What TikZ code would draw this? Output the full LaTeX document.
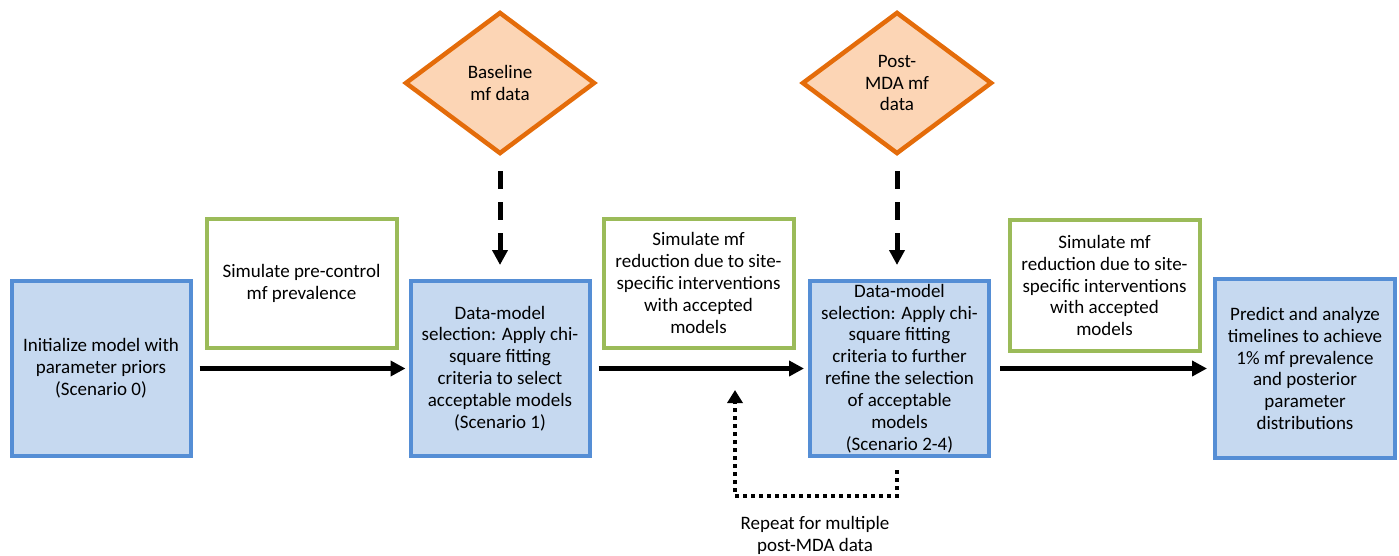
\documentclass[tikz,border=0pt]{standalone}
\usepackage{fontspec}
\setmainfont{Carlito}
\usetikzlibrary{shapes.geometric}
\usetikzlibrary{arrows.meta,positioning}

\definecolor{boxblue}{RGB}{198,217,240}
\definecolor{lineblue}{RGB}{85,142,213}
\definecolor{boxgreen}{RGB}{155,187,89}
\definecolor{diafill}{RGB}{252,213,181}
\definecolor{dialine}{RGB}{228,108,10}

\begin{document}
\begin{tikzpicture}[x=1pt, y=-1pt,
    every node/.style={font=\fontsize{19}{21.9}\selectfont, align=center, inner sep=0pt},
    modelbox/.style={rectangle, draw=lineblue, fill=boxblue, line width=4pt, minimum width=179pt, minimum height=175pt},
    simbox/.style={rectangle, draw=boxgreen, fill=white, line width=4pt, minimum width=190pt, minimum height=129pt},
    databox/.style={diamond, draw=dialine, fill=diafill, line width=4.5pt, minimum width=190pt, minimum height=142pt},
    flow/.style={-{Triangle[length=15pt,width=15pt]}, line width=5pt}]

    \useasboundingbox (0,0) rectangle (1399,556);

    % data
    \node[databox] (baseline) at (500,83) {Baseline\\mf data};
    \node[databox] (postmda) at (897,83) {Post-\\MDA mf\\data};

    % model steps
    \node[modelbox] (init) at (101,368.5) {Initialize model with\\parameter priors\\(Scenario 0)};
    \node[modelbox] (select) at (500,368.5) {Data-model\\selection: Apply chi-\\square fitting\\criteria to select\\acceptable models\\(Scenario 1)};
    \node[modelbox] (refine) at (899.5,368.5) {Data-model\\selection: Apply chi-\\square fitting\\criteria to further\\refine the selection\\of acceptable\\models\\(Scenario 2-4)};
    \node[modelbox, minimum height=179pt, minimum width=180pt] (predict) at (1305,368.5) {Predict and analyze\\timelines to achieve\\1\% mf prevalence\\and posterior\\parameter\\distributions};

    % simulations
    \node[simbox] (precontrol) at (301.5,283) {Simulate pre-control\\mf prevalence};
    \node[simbox] (reduction) at (698.5,283) {Simulate mf\\reduction due to site-\\specific interventions\\with accepted\\models};
    \node[simbox, minimum height=131pt] (reduction2) at (1104.5,285.5) {Simulate mf\\reduction due to site-\\specific interventions\\with accepted\\models};

    \draw[flow, shorten <=7pt, shorten >=3pt] (init) -- (select);
    \draw[flow, shorten <=7pt, shorten >=4pt] (select) -- (refine);
    \draw[flow, shorten <=9pt, shorten >=6pt] (refine) -- (predict);

    \draw[flow, dash pattern=on 18pt off 13pt, shorten <=15pt, shorten >=14pt] (baseline) -- (select);
    \draw[flow, dash pattern=on 18pt off 13pt, shorten <=15pt, shorten >=14pt] (postmda) -- (postmda |- refine.north);

    % repeat loop
    \coordinate (loopend) at (735,390);
    \draw[line width=4pt, dash pattern=on 4pt off 4pt, -{Triangle[length=13pt,width=15pt]}]
        ([xshift=-2.5pt, yshift=-12pt]refine.south) -- ++(0,26) -| (loopend);
    \node (repeat) at (815,535) {Repeat for multiple\\post-MDA data};

\end{tikzpicture}
\end{document}
